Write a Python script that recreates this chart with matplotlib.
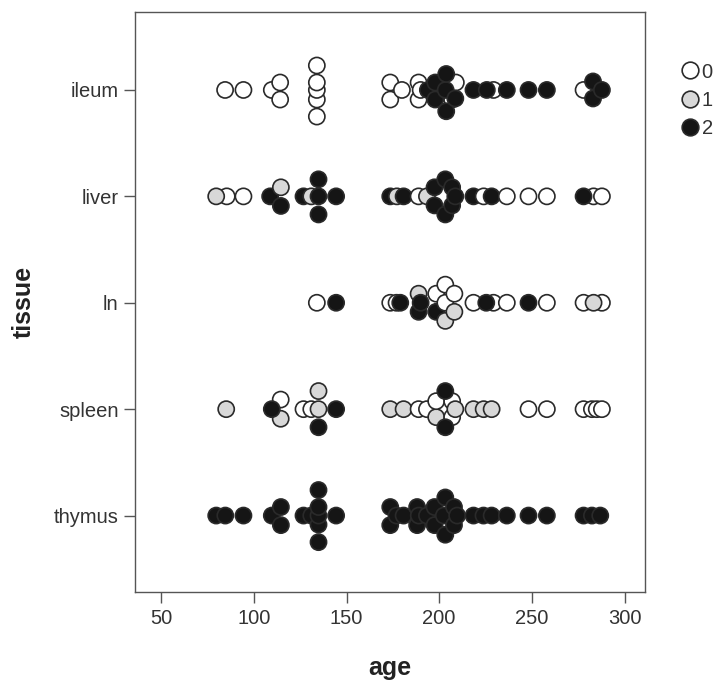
import matplotlib.pyplot as plt
from matplotlib.lines import Line2D

plt.rcParams['font.family'] = ['Liberation Sans', 'DejaVu Sans']

tissues = ['thymus', 'spleen', 'ln', 'liver', 'ileum']
groups_labels = ['0', '1', '2']
colors = {0: 'white', 1: '#d8d8d8', 2: '#151515'}

# each point: age, group, small vertical offset (in row units) used by the stacked dot layout
ileum_age = [84.5, 94.4, 109.7, 114.2, 114.2, 134, 134, 134, 134, 134,
             173.6, 173.6, 179.9, 188.9, 188.9, 190, 207, 209, 229.3, 277.9,
             193.9, 197.9, 197.9, 203.8, 203.5, 203.8, 208.7, 218.5, 225.7,
             236.5, 248.2, 258.1, 283, 283, 287.8]
ileum_grp = [0] * 20 + [2] * 15
ileum_dy = [0, 0, 0, -0.09, 0.07, -0.25, -0.09, 0, 0.07, 0.23,
            -0.09, 0.07, 0, -0.09, 0.07, 0, -0.09, 0.07, 0, 0,
            0, -0.09, 0.07, -0.2, 0, 0.15, -0.08, 0, 0,
            0, 0, 0, -0.08, 0.08, 0]

liver_age = [85.4, 79.7, 94.4, 108.8, 114.6, 114.6, 126.8, 131, 134.9, 134.9,
             134.9, 144.4, 173.6, 177.2, 180.8, 188.9, 193.4, 197.5, 197.5,
             203.3, 203.3, 207, 207, 208.7, 218.5, 224, 228.3, 236.5, 248.2,
             258.1, 283.3, 287.8, 277.9]
liver_grp = [0, 1, 0, 2, 2, 1, 2, 1, 2, 2,
             2, 2, 2, 1, 2, 0, 1, 2, 2,
             2, 2, 2, 2, 2, 2, 0, 2, 0, 0,
             0, 0, 0, 2]
liver_dy = [0, 0, 0, 0, -0.09, 0.085, 0, 0, 0, -0.17,
            0.16, 0, 0, 0, 0, 0, 0, -0.085, 0.085,
            -0.17, 0.16, -0.085, 0.085, 0, 0, 0, 0, 0, 0,
            0, 0, 0, 0]

ln_age = [134, 144.4, 173.6, 177, 179, 188.9, 188.9, 190, 198.4, 198.4,
          203.3, 203.3, 203.3, 208.2, 208.2, 218.5, 229.3, 225.4, 236.5,
          248.2, 258.1, 277.9, 287.8, 283.3]
ln_grp = [0, 2, 0, 0, 2, 2, 1, 2, 2, 0,
          1, 0, 0, 1, 0, 0, 0, 2, 0,
          2, 0, 0, 0, 1]
ln_dy = [0, 0, 0, 0, 0, -0.085, 0.085, 0, -0.085, 0.085,
         -0.17, 0.17, 0, -0.085, 0.085, 0, 0, 0, 0,
         0, 0, 0, 0, 0]

spleen_age = [85.1, 114.5, 114.5, 109.7, 126.8, 131, 134.9, 134.9, 134.9, 144.4,
              173.6, 180.8, 188.9, 193.4, 198.4, 198.4, 207, 207, 203.3, 203.3,
              208.7, 218.5, 224, 228.3, 248.2, 258.1, 277.9, 282.4, 285, 287.8]
spleen_grp = [1, 1, 0, 2, 0, 0, 1, 2, 1, 2,
              1, 1, 0, 0, 1, 0, 0, 0, 2, 2,
              1, 1, 1, 1, 0, 0, 0, 0, 0, 0]
spleen_dy = [0, -0.09, 0.09, 0, 0, 0, 0, -0.17, 0.17, 0,
             0, 0, 0, 0, -0.075, 0.075, -0.075, 0.075, -0.17, 0.17,
             0, 0, 0, 0, 0, 0, 0, 0, 0, 0]

thymus_age = [79.7, 84.6, 94.4, 109.7, 114.6, 114.6, 126.8, 131, 134.9, 134.9,
              134.9, 134.9, 134.9, 144.4, 173.6, 173.6, 177, 180.8, 188.1, 188.1,
              189, 193.4, 197.5, 197.5, 203.3, 203.3, 202.5, 208, 208, 209.7,
              218.5, 223.9, 228.3, 236.5, 248.2, 258.1, 277.9, 282.4, 286.9]
thymus_grp = [2] * 39
thymus_dy = [0, 0, 0, 0, -0.09, 0.08, 0, 0, -0.25, -0.085,
             0, 0.08, 0.24, 0, -0.09, 0.08, 0, 0, -0.09, 0.08,
             0, 0, -0.09, 0.08, -0.18, 0.17, 0, -0.09, 0.08, 0,
             0, 0, 0, 0, 0, 0, 0, 0, 0]

rows = [
    (thymus_age, thymus_grp, thymus_dy),
    (spleen_age, spleen_grp, spleen_dy),
    (ln_age, ln_grp, ln_dy),
    (liver_age, liver_grp, liver_dy),
    (ileum_age, ileum_grp, ileum_dy),
]

fig = plt.figure(figsize=(7.23, 6.83), dpi=100)
ax = fig.add_axes([0.187, 0.133, 0.705, 0.849])

for i, (ages, grps, dys) in enumerate(rows):
    ys = [i + d for d in dys]
    ax.scatter(ages, ys, s=135, c=[colors[g] for g in grps],
               edgecolors='#2a2a2a', linewidths=1.2, zorder=3)

ax.set_xlim(36, 311)
ax.set_ylim(-0.72, 4.73)
ax.set_xticks([50, 100, 150, 200, 250, 300])
ax.set_yticks(range(len(tissues)))
ax.set_yticklabels(tissues)

for sp in ax.spines.values():
    sp.set_color('#555555')
    sp.set_linewidth(1.0)
ax.tick_params(axis='both', length=8, width=1, color='#555555',
               labelsize=14.5, labelcolor='#333333', pad=4)

ax.set_xlabel('age', fontsize=18, fontweight='bold', color='#222222', labelpad=20)
ax.set_ylabel('tissue', fontsize=18, fontweight='bold', color='#222222', labelpad=13)

handles = [Line2D([], [], marker='o', linestyle='none', markersize=12,
                  markerfacecolor=colors[k], markeredgecolor='#2a2a2a',
                  markeredgewidth=1.2) for k in range(3)]
fig.legend(handles, groups_labels, loc='upper left', bbox_to_anchor=(0.912, 0.935),
           frameon=False, fontsize=14.5, handletextpad=0.0, labelspacing=0.45,
           handlelength=1.2, labelcolor='#333333')

plt.savefig('out.png', dpi=100)
